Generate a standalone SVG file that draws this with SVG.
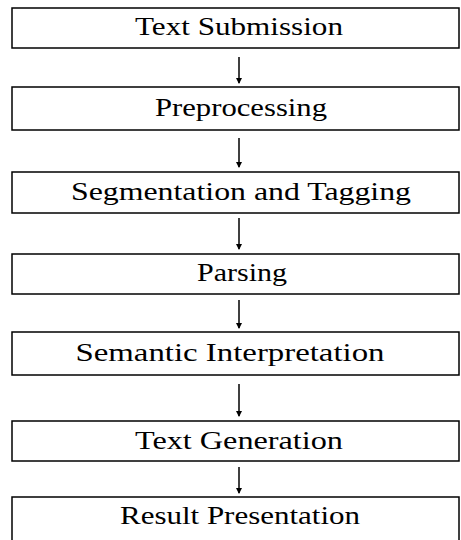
<svg xmlns="http://www.w3.org/2000/svg" width="461" height="540" viewBox="0 0 461 540">
<defs>
<marker id="ah" markerWidth="6" markerHeight="8" refX="5" refY="4" orient="auto" markerUnits="userSpaceOnUse">
<path d="M0,1 L6,4 L0,7 Z" fill="#000"/>
</marker>
<style>
.box{fill:#fff;stroke:#000;stroke-width:1.5}
.lbl{font-family:"Liberation Serif","DejaVu Serif",serif;font-size:25px;fill:#000;text-anchor:middle}
.con{stroke:#000;stroke-width:1.5;fill:none}
</style>
</defs>
<rect width="461" height="540" fill="#fff"/>
<g id="connectors">
<line class="con" x1="239" y1="57" x2="239" y2="83" marker-end="url(#ah)"/>
<line class="con" x1="239" y1="138" x2="239" y2="167" marker-end="url(#ah)"/>
<line class="con" x1="239" y1="218" x2="239" y2="249" marker-end="url(#ah)"/>
<line class="con" x1="239" y1="300" x2="239" y2="328" marker-end="url(#ah)"/>
<line class="con" x1="239" y1="384" x2="239" y2="416" marker-end="url(#ah)"/>
<line class="con" x1="239" y1="467" x2="239" y2="493" marker-end="url(#ah)"/>
</g>
<g id="n1"><rect class="box" x="12" y="8" width="447" height="40"/><text class="lbl" x="239" y="35" textLength="208" lengthAdjust="spacingAndGlyphs">Text Submission</text></g>
<g id="n2"><rect class="box" x="12" y="87" width="447" height="43"/><text class="lbl" x="241" y="116" textLength="172" lengthAdjust="spacingAndGlyphs">Preprocessing</text></g>
<g id="n3"><rect class="box" x="12" y="172" width="447" height="41"/><text class="lbl" x="241" y="200" textLength="340" lengthAdjust="spacingAndGlyphs">Segmentation and Tagging</text></g>
<g id="n4"><rect class="box" x="12" y="254" width="447" height="40"/><text class="lbl" x="242" y="281" textLength="90" lengthAdjust="spacingAndGlyphs">Parsing</text></g>
<g id="n5"><rect class="box" x="12" y="332" width="447" height="43"/><text class="lbl" x="230" y="361" textLength="309" lengthAdjust="spacingAndGlyphs">Semantic Interpretation</text></g>
<g id="n6"><rect class="box" x="12" y="421" width="447" height="40"/><text class="lbl" x="239" y="449" textLength="208" lengthAdjust="spacingAndGlyphs">Text Generation</text></g>
<g id="n7"><rect class="box" x="12" y="497" width="447" height="60"/><text class="lbl" x="240" y="524" textLength="240" lengthAdjust="spacingAndGlyphs">Result Presentation</text></g>
</svg>
